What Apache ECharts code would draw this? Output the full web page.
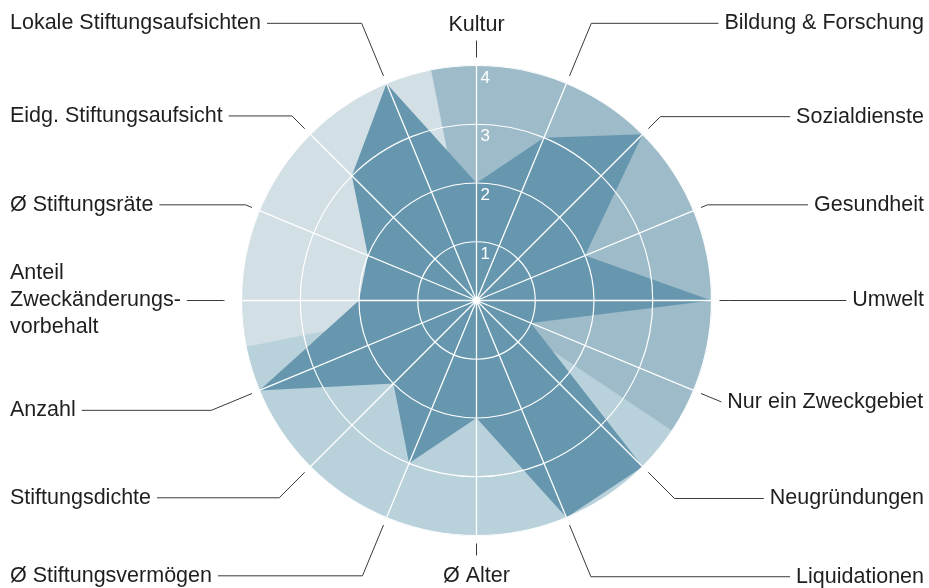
<!DOCTYPE html>
<html>
<head>
<meta charset="utf-8">
<script src="https://cdn.jsdelivr.net/npm/echarts@6/dist/echarts.min.js"></script>
<style>
  html, body { margin: 0; padding: 0; background: #fff; }
  #chart { width: 929px; height: 588px; }
</style>
</head>
<body>
<div id="chart"></div>
<script>
// ---- data ----
const categories = [
  'Kultur', 'Bildung & Forschung', 'Sozialdienste', 'Gesundheit', 'Umwelt',
  'Nur ein Zweckgebiet', 'Neugründungen', 'Liquidationen', 'Ø Alter',
  'Ø Stiftungsvermögen', 'Stiftungsdichte', 'Anzahl',
  'Anteil\nZweckänderungs-\nvorbehalt', 'Ø Stiftungsräte',
  'Eidg. Stiftungsaufsicht', 'Lokale Stiftungsaufsichten'
];
const values = [2, 3, 4, 2, 4, 1, 4, 4, 2, 3, 2, 4, 2, 2, 3, 4];
const shadeGroup = [0, 0, 0, 0, 0, 0, 1, 1, 1, 1, 1, 1, 2, 2, 2, 2];
const scaleMax = 4;
const radiusTicks = [1, 2, 3, 4];

// ---- styling ----
const groupColors = ['#9dbbc9', '#b9d1da', '#d2dfe5'];
const polyColor = '#6697ae';
const FONT = '"Liberation Sans", Arial, Helvetica, sans-serif';
const FONT_SIZE = 21.5;
const leaderLengths = [17, 57, 17, 7, 10, 22, 37, 56, 12, 55, 36, 44, 10, 7, 18, 57];
const CX = 476.5, CY = 300.5, R = 235;

const chart = echarts.init(document.getElementById('chart'), null, { renderer: 'canvas' });

const pieData = categories.map(function (name, i) {
  const item = { name: name, value: 1, labelLine: { length: leaderLengths[i] } };
  if (i === 0 || i === 8) {
    // tiny during pie layout so they don't push neighbours; resized in labelLayout
    item.label = { fontSize: 1, lineHeight: 1 };
  }
  if (i === 5) {
    item.label = { alignTo: 'none', width: 260, overflow: 'none' };
  }
  return item;
});

const option = {
  animation: false,
  backgroundColor: '#ffffff',
  polar: [
    { center: [CX, CY], radius: R },
    { center: [CX, CY], radius: R }
  ],
  angleAxis: [
    {
      polarIndex: 0, type: 'category', data: categories,
      startAngle: 90 + 180 / categories.length, clockwise: true, boundaryGap: true,
      axisLine: { show: false }, axisTick: { show: false },
      axisLabel: { show: false }, splitLine: { show: false }
    },
    {
      polarIndex: 1, type: 'category', data: categories,
      startAngle: 90, clockwise: true, boundaryGap: true, z: 5,
      axisLine: { show: false }, axisTick: { show: false, interval: 0 },
      axisLabel: { show: false, interval: 0 },
      splitLine: { show: true, interval: 0, lineStyle: { color: '#ffffff', width: 1.3 } }
    }
  ],
  radiusAxis: [
    {
      polarIndex: 0, type: 'value', min: 0, max: scaleMax,
      axisLine: { show: false }, axisTick: { show: false },
      axisLabel: { show: false }, splitLine: { show: false }
    },
    {
      polarIndex: 1, type: 'value', min: 0, max: scaleMax, interval: 1, z: 5,
      axisLine: { show: false }, axisTick: { show: false },
      axisLabel: {
        show: true, color: '#ffffff', fontSize: 17, fontFamily: FONT,
        margin: -4, align: 'left', verticalAlign: 'top', padding: [4, 0, 0, 0],
        formatter: function (v) { return radiusTicks.indexOf(v) >= 0 ? String(v) : ''; }
      },
      splitLine: { show: true, lineStyle: { color: '#ffffff', width: 1.2 } }
    }
  ],
  series: [
    {
      type: 'bar', coordinateSystem: 'polar', polarIndex: 0,
      barCategoryGap: '0%', silent: true, z: 2,
      data: shadeGroup.map(function (g) {
        return { value: scaleMax, itemStyle: { color: groupColors[g], borderColor: groupColors[g], borderWidth: 0.8 } };
      })
    },
    {
      type: 'custom', coordinateSystem: 'polar', polarIndex: 0, silent: true, z: 3,
      data: values.map(function (v, i) { return [v, i]; }),
      renderItem: function (params, api) {
        if (params.dataIndex !== 0) return null;
        const pts = values.map(function (v, i) { return api.coord([v, i]); });
        return { type: 'polygon', shape: { points: pts }, style: { fill: polyColor } };
      }
    },
    {
      type: 'pie', silent: true, z: 6,
      left: 5, right: 0, top: 0, bottom: -30,
      center: [CX - 5, CY], radius: R + 8,
      startAngle: 90 + 180 / categories.length, clockwise: true,
      avoidLabelOverlap: true,
      itemStyle: { color: 'rgba(0,0,0,0)' },
      emphasis: { disabled: true },
      label: {
        show: true, position: 'outside', alignTo: 'edge', edgeDistance: 5,
        distanceToLabelLine: 6, fontSize: FONT_SIZE, lineHeight: 27,
        fontFamily: FONT, color: '#1f1f1f'
      },
      labelLine: {
        show: true, length: 10, length2: 0, smooth: false,
        lineStyle: { color: '#3a3a3a', width: 1 }
      },
      labelLayout: function (params) {
        const p = params.labelLinePoints;
        if (!p) return {};
        const i = params.dataIndex;
        if (i === 0) {
          return { x: p[1][0], y: p[1][1] - 15, align: 'center', verticalAlign: 'middle',
                   fontSize: FONT_SIZE, labelLinePoints: [p[0], p[1], p[1]] };
        }
        if (i === 8) {
          return { x: p[1][0], y: p[1][1] + 21, align: 'center', verticalAlign: 'middle',
                   fontSize: FONT_SIZE, labelLinePoints: [p[0], p[1], p[1]] };
        }
        if (i === 12) {
          return { labelLinePoints: [[p[0][0] - 9, p[0][1]], p[1], p[2]] };
        }
        return {};
      },
      data: pieData
    }
  ]
};

chart.setOption(option);
</script>
</body>
</html>
